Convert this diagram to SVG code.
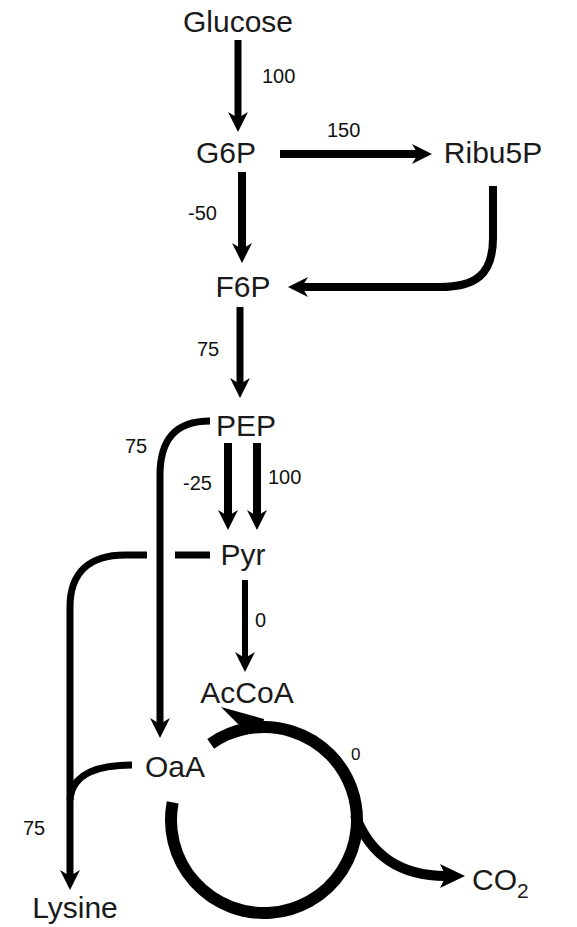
<svg xmlns="http://www.w3.org/2000/svg" width="577" height="927" viewBox="0 0 577 927">
<defs>
<style>
.lbl{font-family:"Liberation Sans",Arial,sans-serif;font-size:30px;fill:#1a1a1a;}
.num{font-family:"Liberation Sans",Arial,sans-serif;font-size:20px;fill:#111;}
.c{fill:none;stroke:#000;stroke-linecap:butt;}
</style>
<marker id="ah" viewBox="-8 -12 24 24" markerWidth="24" markerHeight="24" refX="0" refY="0" orient="auto" markerUnits="userSpaceOnUse">
<path d="M-6,-10 L14,0 L-6,10 L0,0 Z" fill="#000"/>
</marker>
<marker id="ahL" viewBox="-8 -14 30 28" markerWidth="30" markerHeight="28" refX="0" refY="0" orient="auto" markerUnits="userSpaceOnUse">
<path d="M-6,-12 L19,0 L-6,12 L0,0 Z" fill="#000"/>
</marker>
</defs>
<rect width="577" height="927" fill="#fff"/>

<g id="connectors">
<path class="c" d="M238,40 L238,118" stroke-width="7" marker-end="url(#ah)"/>
<path class="c" d="M280,154 L418,154" stroke-width="8" marker-end="url(#ah)"/>
<path class="c" d="M242,172 L242,249" stroke-width="8" marker-end="url(#ah)"/>
<path class="c" d="M493,186 L493,238 C493,275 475,287 440,287 L302,287" stroke-width="8" marker-end="url(#ah)"/>
<path class="c" d="M240,307 L240,384" stroke-width="7" marker-end="url(#ah)"/>
<path class="c" d="M210,421 C175,421 160,440 160,475 L160,724" stroke-width="7" marker-end="url(#ah)"/>
<path class="c" d="M228,443 L228,516" stroke-width="8" marker-end="url(#ah)"/>
<path class="c" d="M257,443 L257,516" stroke-width="8" marker-end="url(#ah)"/>
<path class="c" d="M175,555 L210,555" stroke-width="7"/>
<path class="c" d="M147,555 L125,555 C90,555 70,572 70,607 L70,876" stroke-width="7" marker-end="url(#ah)"/>
<path class="c" d="M245,580 L245,658" stroke-width="6" marker-end="url(#ah)"/>
<path class="c" d="M132,765 C100,765 72,772 70,800" stroke-width="7"/>
<path class="c" d="M210.7,743.8 A93,93 0 1 1 172.7,802.3" stroke-width="12"/>
<path d="M221,707 L264,719 L262,731 L240,726 Z" fill="#000"/>
<path class="c" d="M355,815 C370,855 400,876 446,876" stroke-width="10" marker-end="url(#ahL)"/>
</g>

<g id="labels">
<text class="num" x="262" y="83">100</text>
<text class="num" x="327" y="137">150</text>
<text class="num" x="188" y="220">-50</text>
<text class="num" x="197" y="356">75</text>
<text class="num" x="125" y="453">75</text>
<text class="num" x="183" y="490">-25</text>
<text class="num" x="268" y="484">100</text>
<text class="num" x="255" y="627">0</text>
<text class="num" x="351" y="760" style="font-size:17px">0</text>
<text class="num" x="23" y="835">75</text>
</g>

<g id="Glucose"><text class="lbl" x="238" y="32" text-anchor="middle">Glucose</text></g>
<g id="G6P"><text class="lbl" x="226" y="163" text-anchor="middle">G6P</text></g>
<g id="Ribu5P"><text class="lbl" x="493" y="163" text-anchor="middle">Ribu5P</text></g>
<g id="F6P"><text class="lbl" x="243" y="297" text-anchor="middle">F6P</text></g>
<g id="PEP"><text class="lbl" x="246" y="436" text-anchor="middle">PEP</text></g>
<g id="Pyr"><text class="lbl" x="243" y="565" text-anchor="middle">Pyr</text></g>
<g id="AcCoA"><text class="lbl" x="247" y="703" text-anchor="middle">AcCoA</text></g>
<g id="OaA"><text class="lbl" x="175" y="777" text-anchor="middle">OaA</text></g>
<g id="Lysine"><text class="lbl" x="75" y="918" text-anchor="middle">Lysine</text></g>
<g id="CO2"><text class="lbl" x="472" y="890">CO<tspan dy="8" style="font-size:21px">2</tspan></text></g>
</svg>
